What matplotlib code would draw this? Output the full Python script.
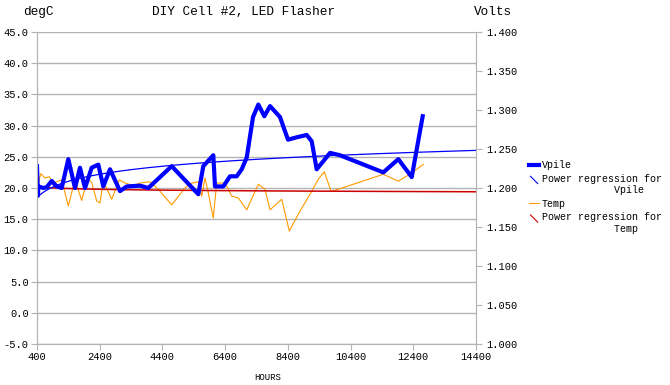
import numpy as np
import matplotlib
matplotlib.use("Agg")
import matplotlib.pyplot as plt
from matplotlib.lines import Line2D
from matplotlib.legend_handler import HandlerBase

plt.rcParams['font.family'] = ['Liberation Mono', 'DejaVu Sans Mono']

# Vpile (Volts, right axis)
vpile_hours = [400, 430, 441, 601, 709, 869, 1028, 1188, 1398, 1612, 1771, 1931,
               2144, 2355, 2514, 2728, 3047, 3261, 3685, 3949, 4696, 5544, 5703,
               6022, 6077, 6341, 6555, 6769, 6928, 7088, 7289, 7458, 7649, 7831,
               8150, 8245, 8405, 8682, 9001, 9160, 9320, 9744, 10063, 11444,
               11922, 12350, 12700]
vpile = [1.228, 1.190, 1.202, 1.200, 1.201, 1.209, 1.202, 1.200, 1.237, 1.200,
         1.226, 1.200, 1.226, 1.230, 1.202, 1.224, 1.196, 1.202, 1.203, 1.200,
         1.228, 1.192, 1.228, 1.242, 1.202, 1.202, 1.215, 1.215, 1.224, 1.239,
         1.291, 1.307, 1.292, 1.305, 1.291, 1.280, 1.262, 1.265, 1.268, 1.260,
         1.224, 1.245, 1.242, 1.220, 1.237, 1.214, 1.292]

# Temp (degC, left axis)
temp_hours = [400, 518, 655, 792, 920, 1188, 1398, 1612, 1826, 2004, 2144, 2304,
              2409, 2514, 2782, 3025, 3206, 3471, 3685, 4004, 4268, 4696, 5120,
              5279, 5544, 5652, 5758, 5863, 6022, 6131, 6341, 6450, 6609, 6820,
              7088, 7458, 7671, 7831, 8204, 8446, 8787, 9106, 9371, 9562, 9776,
              10009, 11444, 11922, 12350, 12720]
temp = [19.8, 22.3, 21.6, 21.8, 20.8, 21.3, 17.1, 21.3, 18.0, 21.5, 20.9, 17.9,
        17.6, 21.1, 18.2, 21.3, 20.8, 20.4, 20.8, 21.0, 19.8, 17.3, 20.0, 20.7,
        21.0, 18.7, 21.6, 19.2, 15.2, 20.8, 20.8, 20.3, 18.7, 18.4, 16.5, 20.6,
        19.8, 16.5, 18.2, 13.1, 16.3, 19.0, 21.4, 22.6, 19.5, 19.8, 22.2, 21.1,
        22.4, 23.8]

# power regression trendlines y = a * x**b
vpile_reg_a, vpile_reg_b = 1.0932, 0.01385
temp_reg_a, temp_reg_b = 21.61, -0.01128

x_ticks = list(range(400, 14401, 2000))


class DiagHandler(HandlerBase):
    def create_artists(self, legend, orig_handle, xdescent, ydescent,
                       width, height, fontsize, trans):
        h = fontsize * 0.9
        top = height + h * 0.55
        line = Line2D([0.15 * width, 0.15 * width + h * 0.8], [top, top - h * 0.8],
                      color=orig_handle.get_color(), lw=0.8, transform=trans)
        return [line]


fig = plt.figure(figsize=(6.7, 3.85), dpi=100)
ax = fig.add_axes([37 / 670, 1 - 344 / 385, 439 / 670, 312 / 385])
ax2 = ax.twinx()

xs = np.linspace(400, 14400, 300)

t_line, = ax.plot(temp_hours, temp, color='#ff9900', lw=0.8)
t_reg, = ax.plot(xs, temp_reg_a * xs ** temp_reg_b, color='#cc0000', lw=1.1)

v_line, = ax2.plot(vpile_hours, vpile, color='#0000ff', lw=3.0)
v_reg, = ax2.plot(xs, vpile_reg_a * xs ** vpile_reg_b, color='#0000ff', lw=0.9)

ax.set_xlim(400, 14400)
ax.set_ylim(-5, 45)
ax2.set_ylim(1.0, 1.4)
ax.set_xticks(x_ticks)
ax.set_xticklabels([str(t) for t in x_ticks])
ax.set_yticks(np.arange(-5, 45.1, 5))
ax.set_yticklabels(['%.1f' % v for v in np.arange(-5, 45.1, 5)])
ax2.set_yticks(np.arange(1.0, 1.4001, 0.05))
ax2.set_yticklabels(['%.3f' % v for v in np.arange(1.0, 1.4001, 0.05)])

ax.grid(axis='y', color='#b4b4b4', lw=1.0)
ax.set_axisbelow(True)
for a in (ax, ax2):
    for s in a.spines.values():
        s.set_color('#b4b4b4')
    a.spines['top'].set_visible(False)
    a.tick_params(colors='#b4b4b4', labelcolor='black', labelsize=7.5, length=4)
ax.tick_params(axis='x', pad=2)
ax.tick_params(axis='y', pad=2)

fig.text(38 / 670, 1 - 12 / 385, 'degC', ha='center', va='center', fontsize=9.2)
fig.text(244 / 670, 1 - 12 / 385, 'DIY Cell #2, LED Flasher', ha='center',
         va='center', fontsize=9.2)
fig.text(493 / 670, 1 - 12 / 385, 'Volts', ha='center', va='center', fontsize=9.2)
fig.text(268 / 670, 1 - 377 / 385, 'HOURS', ha='center', va='center', fontsize=6.5)

fig.legend([v_line, v_reg, t_line, t_reg],
           ['Vpile', 'Power regression for\n            Vpile',
            'Temp', 'Power regression for\n            Temp'],
           handler_map={v_reg: DiagHandler(), t_reg: DiagHandler()},
           loc='upper left', bbox_to_anchor=(524 / 670, 1 - 155 / 385),
           frameon=False, fontsize=7.2, handlelength=1.0, handletextpad=0.25,
           borderpad=0, labelspacing=0.35)

fig.savefig('out.png', dpi=100)
